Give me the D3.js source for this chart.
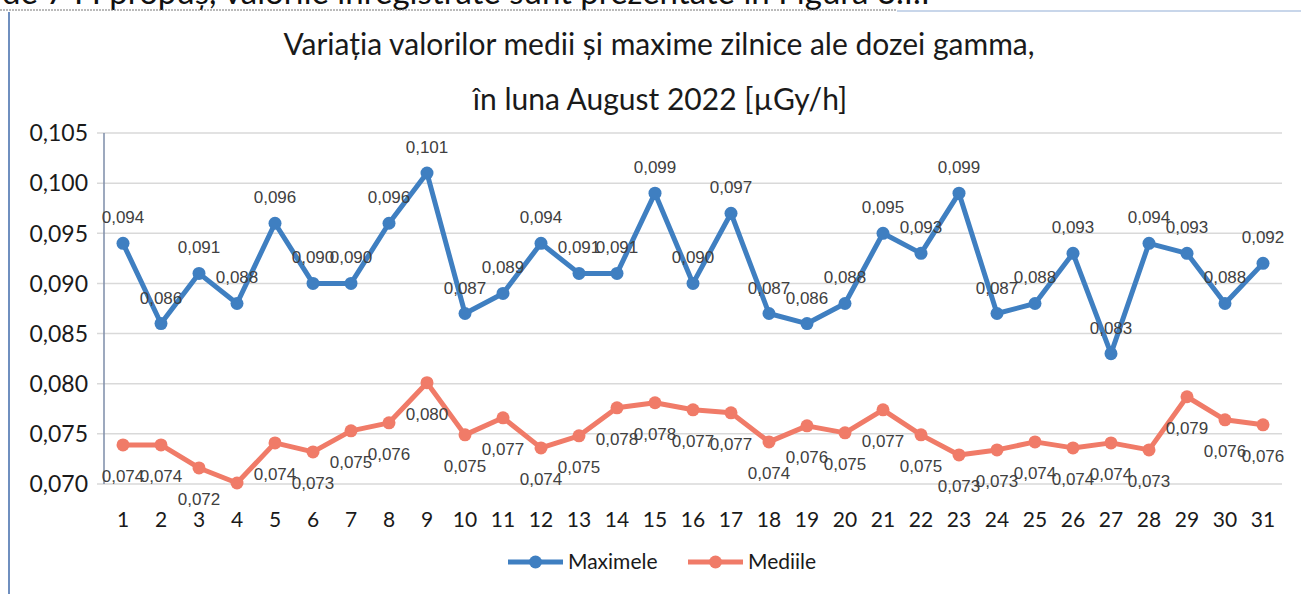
<!DOCTYPE html>
<html lang="ro">
<head>
<meta charset="UTF-8">
<title>Doza gamma August 2022</title>
<script src="https://d3js.org/d3.v7.min.js"></script>
<style>
    body { margin: 0; background: #fff; }
    svg { display: block; }
    .tick-y, .tick-x, .legend text, .title { font-family: Lato, "Open Sans", sans-serif; fill: #1a1a1a; }
    .lbl { font-family: "Liberation Sans", Arial, sans-serif; font-size: 17px; fill: #404040; }
</style>
</head>
<body>
<svg id="chart" width="1301" height="594"></svg>
<script>
    // days of the month
    const days = d3.range(1, 32).map(String);

    // daily maximum values
    const maximele = [0.094, 0.086, 0.091, 0.088, 0.096, 0.090, 0.090, 0.096, 0.101, 0.087,
                      0.089, 0.094, 0.091, 0.091, 0.099, 0.090, 0.097, 0.087, 0.086, 0.088,
                      0.095, 0.093, 0.099, 0.087, 0.088, 0.093, 0.083, 0.094, 0.093, 0.088, 0.092];

    // daily mean values
    const mediile = [0.0739, 0.0739, 0.0716, 0.0701, 0.0741, 0.0732, 0.0753, 0.0761, 0.0801, 0.0749,
                     0.0766, 0.0736, 0.0748, 0.0776, 0.0781, 0.0774, 0.0771, 0.0742, 0.0758, 0.0751,
                     0.0774, 0.0749, 0.0729, 0.0734, 0.0742, 0.0736, 0.0741, 0.0734, 0.0787, 0.0764, 0.0759];

    const yTicks = [0.070, 0.075, 0.080, 0.085, 0.090, 0.095, 0.100, 0.105];

    const series = [
        { name: "Maximele", values: maximele, color: "#3f7fc1", above: true },
        { name: "Mediile", values: mediile, color: "#f07b68", above: false }
    ];

    const svg = d3.select("#chart");
    const fmt = v => v.toFixed(3).replace(".", ",");

    // page bits from the scanned document (text above is cut by the crop)
    svg.append("text")
        .attr("x", 2).attr("y", 4)
        .style("font-family", "Lato, sans-serif").style("font-size", "33px").style("fill", "#111")
        .text("de 7 I I propuș, valorile înregistrate sunt prezentate în Figura 3.I.I");
    svg.append("line")
        .attr("x1", 0).attr("x2", 897).attr("y1", 10).attr("y2", 10)
        .attr("stroke", "#777").attr("stroke-dasharray", "2,1");
    svg.append("line")
        .attr("x1", 897).attr("x2", 1301).attr("y1", 11).attr("y2", 11)
        .attr("stroke", "#c8d6ea").attr("stroke-width", 2);
    svg.append("line")
        .attr("x1", 9).attr("x2", 9).attr("y1", 12).attr("y2", 594)
        .attr("stroke", "#6f8fbf").attr("stroke-width", 2);

    const x = d3.scaleBand().domain(days).range([104, 1282]).padding(0);
    const y = d3.scaleLinear().domain([0.070, 0.105]).range([484, 133]);
    const cx = d => x(d) + x.bandwidth() / 2;

    // title
    svg.append("text").attr("class", "title")
        .attr("x", 659).attr("y", 55).attr("text-anchor", "middle")
        .style("font-size", "30px")
        .text("Variația valorilor medii și maxime zilnice ale dozei gamma,");
    svg.append("text").attr("class", "title")
        .attr("x", 660).attr("y", 110).attr("text-anchor", "middle")
        .style("font-size", "30px")
        .text("în luna August 2022 [µGy/h]");

    // gridlines
    svg.append("g")
        .selectAll("line")
        .data(yTicks)
        .join("line")
        .attr("x1", 97).attr("x2", 1282)
        .attr("y1", d => y(d)).attr("y2", d => y(d))
        .attr("stroke", "#d9d9d9").attr("stroke-width", 1.5);

    // y axis
    svg.append("line")
        .attr("x1", 104).attr("x2", 104).attr("y1", y(0.105)).attr("y2", y(0.070))
        .attr("stroke", "#7d8ca8").attr("stroke-width", 1.5);

    svg.append("g")
        .selectAll("text")
        .data(yTicks)
        .join("text")
        .attr("class", "tick-y")
        .attr("x", 88).attr("y", d => y(d)).attr("dy", "0.36em")
        .attr("text-anchor", "end")
        .style("font-size", "23px")
        .text(d => fmt(d));

    // x tick labels
    svg.append("g")
        .selectAll("text")
        .data(days)
        .join("text")
        .attr("class", "tick-x")
        .attr("x", d => cx(d)).attr("y", 527)
        .attr("text-anchor", "middle")
        .style("font-size", "21px")
        .text(d => d);

    const line = d3.line().x((v, i) => cx(days[i])).y(v => y(v));

    series.forEach(s => {
        const g = svg.append("g");
        g.append("path")
            .attr("d", line(s.values))
            .attr("fill", "none")
            .attr("stroke", s.color)
            .attr("stroke-width", 5)
            .attr("stroke-linejoin", "round");
        g.selectAll("circle")
            .data(s.values)
            .join("circle")
            .attr("cx", (v, i) => cx(days[i]))
            .attr("cy", v => y(v))
            .attr("r", 6.5)
            .attr("fill", s.color);
        // the label under day 4 of the mean series is not shown in the source
        g.selectAll("text")
            .data(s.values)
            .join("text")
            .attr("class", "lbl")
            .attr("x", (v, i) => cx(days[i]))
            .attr("y", v => y(v) + (s.above ? -20 : 37))
            .attr("text-anchor", "middle")
            .text((v, i) => (!s.above && i === 3) ? "" : fmt(v));
    });

    // legend
    const legend = svg.append("g").attr("class", "legend");
    const legendX = [508, 688];
    series.forEach((s, i) => {
        const lg = legend.append("g").attr("transform", `translate(${legendX[i]},562)`);
        lg.append("line").attr("x1", 0).attr("x2", 55)
            .attr("stroke", s.color).attr("stroke-width", 5);
        lg.append("circle").attr("cx", 27.5).attr("r", 6.5).attr("fill", s.color);
        lg.append("text").attr("x", 60).attr("dy", "0.35em")
            .style("font-size", "21px")
            .text(s.name);
    });
</script>
</body>
</html>
